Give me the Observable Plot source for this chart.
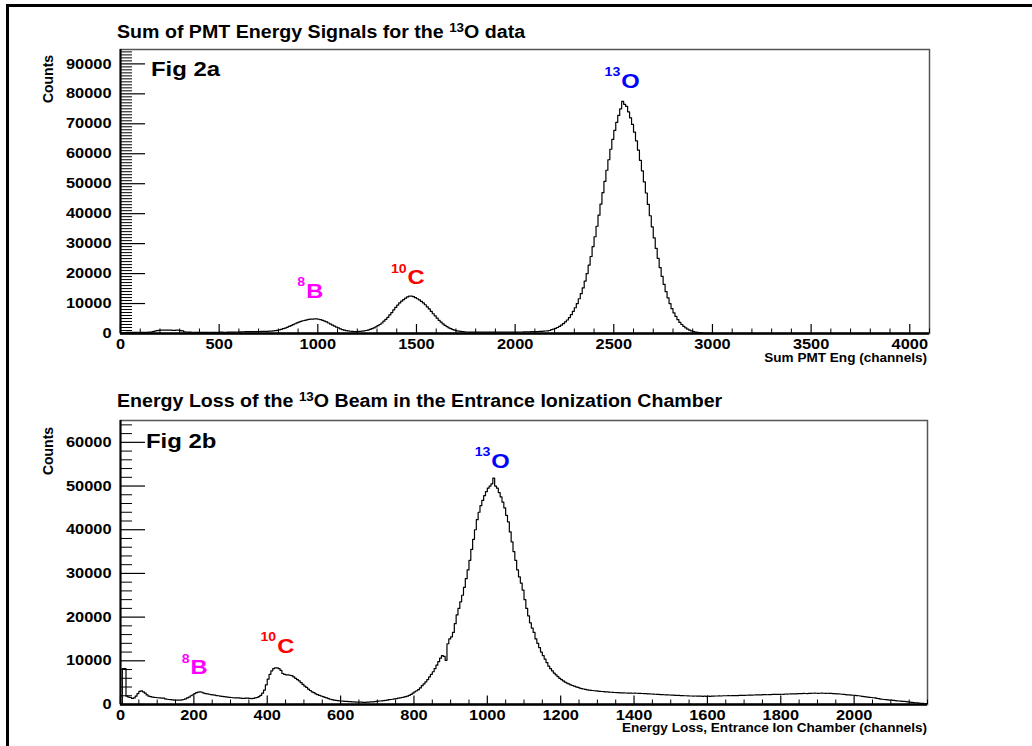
<!DOCTYPE html>
<html><head><meta charset="utf-8">
<script src="https://cdn.jsdelivr.net/npm/d3@7"></script>
<script src="https://cdn.jsdelivr.net/npm/@observablehq/plot@0.6"></script>
<style>
body{margin:0;background:#fff;}
#page{position:relative;width:1032px;height:746px;overflow:hidden;background:#fff;font-family:"Liberation Sans",Arial,Helvetica,sans-serif;font-weight:bold;color:#000;}
.abs{position:absolute;white-space:nowrap;}
.sup{position:relative;}
.plot{position:absolute;left:0;}
.plot svg{overflow:visible;}
</style></head><body><div id="page">
<div class="abs" style="left:6px;top:4px;width:1100px;height:800px;border-top:3px solid #000;border-left:3px solid #000;"></div>
<div id="plotA" class="plot" style="top:0px"></div>
<div id="plotB" class="plot" style="top:375px"></div>
<div class="abs" style="left:117px;top:24.2px;font-size:17.5px;line-height:17.5px;transform:scaleX(1.12);transform-origin:left center;">Sum of PMT Energy Signals for the <span class="sup" style="font-size:12px;top:-6.5px">13</span>O data</div>
<div class="abs" style="left:117px;top:393.2px;font-size:17.5px;line-height:17.5px;transform:scaleX(1.12);transform-origin:left center;">Energy Loss of the <span class="sup" style="font-size:12px;top:-6.5px">13</span>O Beam in the Entrance Ionization Chamber</div>
<div class="abs" style="left:151px;top:57.7px;font-size:21px;line-height:21px;transform:scaleX(1.14);transform-origin:left center;">Fig 2a</div>
<div class="abs" style="left:146px;top:430.2px;font-size:21px;line-height:21px;transform:scaleX(1.14);transform-origin:left center;">Fig 2b</div>
<div class="abs" style="left:48px;top:79px;font-size:14px;line-height:14px;transform:translate(-50%,-50%) rotate(-90deg);">Counts</div>
<div class="abs" style="left:48px;top:451px;font-size:14px;line-height:14px;transform:translate(-50%,-50%) rotate(-90deg);">Counts</div>
<div class="abs" style="right:105px;top:351.8px;font-size:12px;line-height:12px;transform:scaleX(1.13);transform-origin:right center;">Sum PMT Eng (channels)</div>
<div class="abs" style="right:105px;top:721.8px;font-size:12px;line-height:12px;transform:scaleX(1.13);transform-origin:right center;">Energy Loss, Entrance Ion Chamber (channels)</div>
</div>
<script>
// ---------- data ----------
const binA = 10;   // channel width of each bin, Fig 2a (bin i covers [10i, 10i+10))
const countsA = [
  // 0-160
  150, 250, 330, 370, 400, 400, 380, 380, 420, 420, 400, 400, 380, 380, 430, 450,
  // 160-320
  600, 800, 950, 1050, 1100, 1100, 1150, 1150, 1100, 1100, 1050, 1050, 1100, 1100, 950, 850,
  // 320-600
  550, 500, 450, 450, 420, 420, 400, 400, 380, 380, 400, 400, 420, 420, 380, 380, 400, 400, 430, 430, 410, 410, 450, 450, 480, 480, 500, 500,
  // 600-780
  530, 550, 580, 600, 620, 620, 640, 650, 640, 640, 660, 680, 700, 700, 730, 760, 820, 880,
  // 780-1300 (8B)
  950, 1050, 1200, 1400, 1600, 1800, 2050, 2350, 2650, 2950, 3250, 3550, 3800, 4050, 4250, 4400, 4550, 4700, 4780, 4830,
  4870, 4850, 4750, 4600, 4400, 4150, 3850, 3500, 3150, 2800, 2450, 2150, 1850, 1550, 1300, 1100, 950, 850, 750, 700,
  650, 650, 680, 720, 800, 900, 1000, 1150, 1350, 1600, 1850, 2200,
  // 1300-1760 (10C)
  2600, 3000, 3500, 4100, 4700, 5400, 6200, 7000, 7900, 8700, 9500, 10200, 10800, 11300, 11800, 12200, 12450, 12500, 12300, 12000,
  11600, 11200, 10700, 10200, 9600, 8900, 8200, 7400, 6600, 5900, 5100, 4400, 3800, 3200, 2700, 2300, 1900, 1600, 1300, 1100,
  900, 780, 680, 600, 540, 500,
  // 1760-2180
  480, 480, 460, 460, 450, 450, 470, 470, 440, 440, 430, 430, 450, 450, 460, 460, 440, 440, 450, 450,
  470, 470, 480, 480, 460, 460, 500, 500, 520, 520, 550, 550, 600, 600, 650, 650, 700, 720, 780, 830, 900, 1000,
  // 2180-3010 (13O)
  1300, 1450, 1700, 2000, 2350, 2800, 3300, 3900, 4500, 5300, 6300, 7400, 8600, 10000, 11600, 13300, 15200, 17500, 20000,
  22800, 25700, 29000, 32300, 35800, 39500, 43200, 47000, 50800, 54500, 58000, 61500, 64800, 67800, 70500, 72800, 75000, 77500, 76500, 75800,
  74000, 72000, 69800, 67200, 64300, 61200, 57800, 54300, 50600, 46900, 43100, 39300, 35600, 31900, 28400, 25100, 22000, 19100, 16400, 14000,
  11900, 10000, 8300, 6900, 5700, 4600, 3700, 3000, 2400, 1900, 1450, 1100, 850, 650, 480, 350, 250, 180, 120, 80,
  50, 30, 15, 5,
  // 3010-4100
  0,0,0,0,0,0,0,0,0,0, 0,0,0,0,0,0,0,0,0,0, 0,0,0,0,0,0,0,0,0,0, 0,0,0,0,0,0,0,0,0,0, 0,0,0,0,0,0,0,0,0,0,
  0,0,0,0,0,0,0,0,0,0, 0,0,0,0,0,0,0,0,0,0, 0,0,0,0,0,0,0,0,0,0, 0,0,0,0,0,0,0,0,0,0, 0,0,0,0,0,0,0,0,0,0,
  0,0,0,0,0,0,0,0,0
];
const binB = 5;    // channel width of each bin, Fig 2b (bin i covers [5i, 5i+5))
const countsB = [
  150, 8200, 8200, 1900, 1700, 1600, 1400, 1500, 1900, 2500, 3000, 3100, 2900, 2600, 2200, 1900, 1800, 1700, 1650, 1600,
  1550, 1500, 1480, 1450, 1300, 1200, 1150, 1100, 1050, 1000, 1000, 980, 1000, 1050, 1150, 1300, 1500, 1700, 2000, 2200,
  2500, 2700, 2850, 2900, 2800, 2600, 2500, 2450, 2350, 2250, 2200, 2150, 2050, 2000, 1900, 1850, 1800, 1750, 1700, 1650,
  1600, 1550, 1500, 1500, 1500, 1450, 1400, 1400, 1450, 1450, 1400, 1350, 1400, 1500, 1600, 1800, 2100, 2600, 3300, 4500,
  5800, 6900, 7700, 8200, 8400, 8400, 8200, 7800, 7100, 6900, 6800, 6800, 6700, 6600, 6300, 6000, 5700, 5400, 5000, 4600,
  4200, 3900, 3500, 3200, 2900, 2700, 2450, 2250, 2100, 1950, 1800, 1650, 1500, 1350, 1200, 1100, 1000, 950, 900, 850,
  800, 750, 700, 700, 650, 650, 600, 600, 550, 550, 550, 550, 500, 500, 550, 550, 600, 600, 650, 700,
  750, 800, 850, 900, 950, 1000, 1100, 1150, 1200, 1300, 1350, 1450, 1500, 1600, 1700, 1800, 1900, 2100, 2300, 2600,
  2900, 3150, 3400, 3800, 4300, 4700, 5200, 5700, 6300, 6900, 7500, 8200, 9000, 9800, 10600, 11200, 11000, 10100, 13900, 15000,
  15500, 16500, 18500, 20500, 22000, 23500, 25000, 26800, 28800, 30800, 33000, 35500, 37800, 40000, 42300, 44000, 45500, 46700, 47800, 48700,
  49500, 50000, 50500, 51800, 50000, 49500, 48500, 47500, 46300, 45000, 43300, 41800, 39500, 37200, 35000, 33000, 30800, 29200, 27800, 26200,
  24000, 22000, 20300, 18700, 17500, 16500, 15000, 14000, 13000, 12000, 11200, 10400, 9600, 8800, 8200, 7700, 7200, 6800, 6400, 6000,
  5700, 5400, 5100, 4900, 4700, 4500, 4350, 4200, 4050, 3900, 3750, 3650, 3550, 3450, 3350, 3300, 3250, 3200, 3150, 3100,
  3050, 3000, 2980, 2950, 2900, 2870, 2850, 2800, 2780, 2750, 2720, 2700, 2680, 2650, 2650, 2630, 2620, 2600, 2600, 2580,
  2600, 2580, 2560, 2550, 2520, 2500, 2480, 2450, 2430, 2400, 2380, 2350, 2330, 2300, 2280, 2250, 2230, 2200, 2200, 2180,
  2150, 2130, 2100, 2100, 2080, 2050, 2030, 2000, 2000, 1980, 1950, 1950, 1930, 1950, 1920, 1900, 1900, 1880, 1900, 1880,
  1900, 1880, 1900, 1920, 1950, 1950, 1970, 1950, 2000, 2000, 2000, 2020, 2000, 2050, 2050, 2030, 2050, 2080, 2100, 2100,
  2100, 2120, 2150, 2150, 2150, 2180, 2200, 2200, 2220, 2200, 2250, 2250, 2230, 2280, 2250, 2300, 2300, 2320, 2300, 2330,
  2350, 2330, 2400, 2380, 2400, 2420, 2450, 2430, 2450, 2480, 2500, 2480, 2550, 2520, 2500, 2550, 2550, 2580, 2600, 2580,
  2550, 2580, 2600, 2570, 2550, 2580, 2550, 2530, 2500, 2500, 2450, 2430, 2400, 2350, 2300, 2280, 2200, 2200, 2150, 2120,
  2100, 2050, 2000, 1950, 1850, 1800, 1750, 1700, 1650, 1600, 1550, 1500, 1400, 1350, 1250, 1200, 1150, 1100, 1050, 1000,
  980, 950, 900, 850, 800, 750, 720, 700, 650, 600, 550, 500, 450, 400, 350, 300, 280, 250, 220, 200
];
const xTicksA = [0, 500, 1000, 1500, 2000, 2500, 3000, 3500, 4000];
const yTicksA = [0, 10000, 20000, 30000, 40000, 50000, 60000, 70000, 80000, 90000];
const xTicksB = [0, 200, 400, 600, 800, 1000, 1200, 1400, 1600, 1800, 2000];
const yTicksB = [0, 10000, 20000, 30000, 40000, 50000, 60000];
const isotopesA = [
  {el: "B", A: "8", ch: 941, counts: 11870, color: "#ff00ff"},
  {el: "C", A: "10", ch: 1455, counts: 16430, color: "#ff0000"},
  {el: "O", A: "13", ch: 2538, counts: 82000, color: "#0000ff"}
];
const isotopesB = [
  {el: "B", A: "8", ch: 191, counts: 6910, color: "#ff00ff"},
  {el: "C", A: "10", ch: 427, counts: 11790, color: "#ff0000"},
  {el: "O", A: "13", ch: 1011, counts: 54200, color: "#0000ff"}
];

// ---------- helpers ----------
function histPoints(counts, bw) {
  const pts = counts.map((c, i) => ({x: i * bw, y: c}));
  pts.push({x: counts.length * bw, y: counts[counts.length - 1]});
  return pts;
}
function stretchText(svg, k) {
  svg.querySelectorAll("text").forEach(t => {
    const tr = t.getAttribute("transform");
    if (tr && tr.includes("translate")) t.setAttribute("transform", tr + ` scale(${k},1)`);
  });
}
function panel(o) {
  const innerW = o.width - o.ml - o.mr, innerH = o.height - o.mt - o.mb;
  const minorX = d3.range(0, o.xMax + 1e-9, o.xMinor).filter(v => !o.xTicks.includes(v));
  const minorY = d3.range(0, o.yMax, o.yMinor).filter(v => !o.yTicks.includes(v));
  const svg = Plot.plot({
    width: o.width, height: o.height,
    marginLeft: o.ml, marginRight: o.mr, marginTop: o.mt, marginBottom: o.mb,
    style: {fontFamily: "Liberation Sans, Arial, sans-serif", fontWeight: "bold", fontSize: "14.5px", background: "transparent", color: "#000"},
    x: {domain: [0, o.xMax], axis: null},
    y: {domain: [0, o.yMax], axis: null},
    marks: [
      Plot.frame({stroke: "#555", strokeWidth: 1.5}),
      Plot.line(histPoints(o.counts, o.bw), {x: "x", y: "y", curve: "step-after", stroke: "#000", strokeWidth: 1.2, clip: true}),
      Plot.tickY(minorY, {y: d => d, insetRight: innerW - 12, stroke: "#000", strokeWidth: 1}),
      Plot.tickY(o.yTicks, {y: d => d, insetRight: innerW - 25, stroke: "#000", strokeWidth: 1.2}),
      Plot.tickX(minorX, {x: d => d, insetTop: innerH - 4.5, stroke: "#000", strokeWidth: 1}),
      Plot.tickX(o.xTicks, {x: d => d, insetTop: innerH - o.xMajorLen, stroke: "#000", strokeWidth: 1.2}),
      Plot.ruleX([0], {stroke: "#000", strokeWidth: 2}),
      Plot.ruleY([0], {stroke: "#000", strokeWidth: 2.5}),
      Plot.text(o.yTicks, {y: d => d, text: d => String(d), frameAnchor: "left", dx: -9, textAnchor: "end", lineAnchor: "middle", fontSize: 14.5, fontWeight: "bold", fill: "#000"}),
      Plot.text(o.xTicks, {x: d => d, text: d => String(d), frameAnchor: "bottom", dy: 5, textAnchor: "middle", lineAnchor: "top", fontSize: 14.5, fontWeight: "bold", fill: "#000"}),
      Plot.text(o.isotopes, {x: "ch", y: "counts", text: "el", fill: "color", textAnchor: "start", lineAnchor: "bottom", fontSize: 21, fontWeight: "bold"}),
      Plot.text(o.isotopes, {x: "ch", y: "counts", text: "A", fill: "color", textAnchor: "end", lineAnchor: "bottom", dx: -1, dy: -11.5, fontSize: 12.5, fontWeight: "bold"})
    ]
  });
  stretchText(svg, 1.13);
  return svg;
}

document.getElementById("plotA").appendChild(panel({
  width: 1032, height: 375, ml: 120, mr: 103, mt: 49, mb: 42,
  xMax: 4100, yMax: 94800, xMinor: 100, yMinor: 1000, xMajorLen: 9,
  counts: countsA, bw: binA, xTicks: xTicksA, yTicks: yTicksA, isotopes: isotopesA
}));
document.getElementById("plotB").appendChild(panel({
  width: 1032, height: 371, ml: 120, mr: 105, mt: 45, mb: 42,
  xMax: 2200, yMax: 65000, xMinor: 50, yMinor: 2000, xMajorLen: 8.5,
  counts: countsB, bw: binB, xTicks: xTicksB, yTicks: yTicksB, isotopes: isotopesB
}));
</script>
</body></html>
